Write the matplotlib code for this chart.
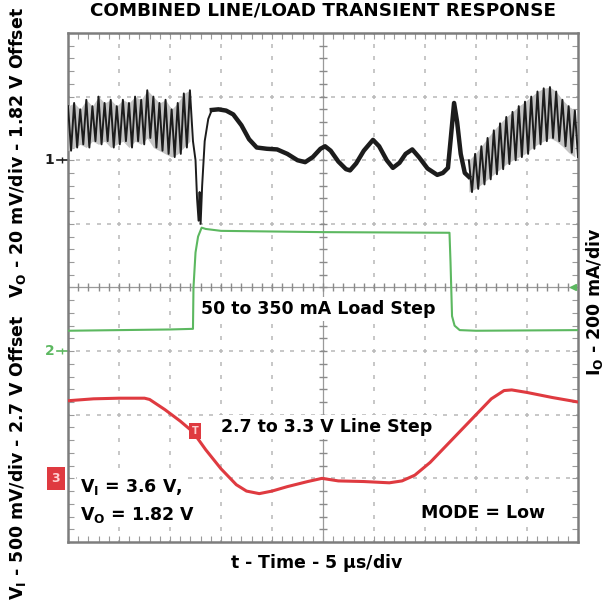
import numpy as np
import matplotlib.pyplot as plt

# Scope screen: 10 x 8 divisions, 5 us/div. All trace values in divisions.
# CH1 = V_O (20 mV/div), CH2 = I_O (200 mA/div), CH3 = V_I (500 mV/div)

# CH1 ripple before the load step (alternating peak / valley), t = 0 .. 2.45 div
ch1_ripple_pre = [2.85, 2.15, 2.9, 2.2, 2.8, 2.25, 2.95, 2.2, 2.85, 2.3, 3.0, 2.25,
                  2.9, 2.3, 2.95, 2.2, 2.85, 2.25, 2.95, 2.3, 2.9, 2.2, 3.0, 2.3,
                  2.95, 2.25, 3.1, 2.35, 3.0, 2.2, 2.9, 2.15, 2.95, 2.1, 2.8, 2.05,
                  2.9, 2.1, 3.05, 2.2, 3.1, 2.3]

# CH1 undershoot at the load step (thin part)
ch1_dip_t = [2.45, 2.5, 2.53, 2.56, 2.58, 2.6, 2.63, 2.68, 2.75, 2.82]
ch1_dip_v = [2.3, 2.0, 1.4, 1.05, 1.5, 1.0, 1.6, 2.3, 2.65, 2.79]

# CH1 under heavy load, through the release spike
ch1_load_t = [2.82, 2.95, 3.1, 3.24, 3.4, 3.55, 3.7, 3.9, 4.1, 4.3, 4.5, 4.65, 4.8,
              4.95, 5.04, 5.15, 5.3, 5.45, 5.53, 5.65, 5.8, 5.98, 6.1, 6.25, 6.37,
              6.5, 6.62, 6.75, 6.88, 7.05, 7.24, 7.35, 7.45, 7.5, 7.57, 7.63, 7.7,
              7.78, 7.86]
ch1_load_v = [2.79, 2.8, 2.78, 2.72, 2.55, 2.33, 2.2, 2.18, 2.17, 2.1, 2.0, 1.97, 2.05,
              2.18, 2.22, 2.15, 1.98, 1.86, 1.84, 1.95, 2.15, 2.32, 2.22, 2.0, 1.88,
              1.96, 2.1, 2.17, 2.05, 1.87, 1.77, 1.8, 1.88, 2.3, 2.9, 2.6, 2.1,
              1.8, 1.74]

# CH1 ripple after the load release, t = 7.86 .. 10 div
ch1_ripple_post = [2.0, 1.5, 2.1, 1.55, 2.22, 1.62, 2.35, 1.7, 2.47, 1.78, 2.58, 1.86,
                   2.68, 1.94, 2.76, 2.0, 2.85, 2.05, 2.92, 2.1, 3.0, 2.18, 3.08, 2.25,
                   3.13, 2.3, 3.15, 2.35, 3.08, 2.3, 2.95, 2.22, 2.85, 2.12, 2.78, 2.05]

# CH2 load current step 50 -> 350 -> 50 mA
ch2_t = [0, 2.0, 2.45, 2.46, 2.5, 2.55, 2.62, 2.7, 3.0, 5.0, 7.48, 7.5, 7.53, 7.58,
         7.68, 8.0, 10]
ch2_v = [-0.68, -0.66, -0.65, 0.0, 0.55, 0.8, 0.94, 0.92, 0.89, 0.87, 0.86, 0.4,
         -0.45, -0.6, -0.67, -0.68, -0.67]

# CH3 input voltage line step
ch3_t = [0, 0.5, 1.0, 1.5, 1.6, 1.9, 2.2, 2.45, 2.7, 3.0, 3.3, 3.5, 3.75, 4.0, 4.3,
         4.7, 4.98, 5.3, 5.8, 6.3, 6.55, 6.8, 7.1, 7.4, 7.7, 8.0, 8.3, 8.55, 8.7,
         9.0, 9.5, 10]
ch3_v = [-1.78, -1.75, -1.74, -1.74, -1.76, -1.92, -2.1, -2.27, -2.55, -2.85, -3.1,
         -3.2, -3.24, -3.2, -3.13, -3.05, -3.0, -3.04, -3.05, -3.07, -3.04, -2.95,
         -2.75, -2.5, -2.25, -2.0, -1.75, -1.62, -1.61, -1.65, -1.73, -1.8]

# channel ground markers (div) and trigger point
ch_levels = {"1": 2, "2": -1, "3": -3}
trig_t, trig_v = 2.49, -2.26
trig_level = 0

BLACK = "#1c1c1c"
GREEN = "#5cb860"
RED = "#df3a40"
GRID = "#b8b8b8"

fig = plt.figure(figsize=(6.09, 6.02), dpi=100)
ax = fig.add_axes([0.1117, 0.0997, 0.8374, 0.8455])
ax.set_xlim(0, 10)
ax.set_ylim(-4, 4)

# graticule: dotted division lines
sub_x = np.arange(0, 10.001, 0.2)
sub_y = np.arange(-4, 4.001, 0.2)
for y in range(-3, 4):
    if y != 0:
        ax.plot(sub_x, np.full_like(sub_x, y), ls="none", marker="_", ms=3, mew=1.1,
                color=GRID, zorder=1)
for x in range(1, 10):
    if x != 5:
        ax.plot(np.full_like(sub_y, x), sub_y, ls="none", marker="|", ms=3, mew=1.1,
                color=GRID, zorder=1)

# center axes with tick marks
ax.axhline(0, color="#9a9a9a", lw=0.9, zorder=1)
ax.axvline(5, color="#9a9a9a", lw=0.9, zorder=1)
ax.plot(sub_x, np.zeros_like(sub_x), ls="none", marker="|", ms=6, mew=1, color="#8a8a8a", zorder=1)
ax.plot(np.full_like(sub_y, 5), sub_y, ls="none", marker="_", ms=6, mew=1, color="#8a8a8a", zorder=1)

for side in ax.spines.values():
    side.set_color("#7d7d7d")
    side.set_linewidth(1.8)
ax.set_xticks(sub_x)
ax.set_yticks(sub_y)
ax.tick_params(direction="in", length=4, width=0.8, color="#9a9a9a",
               top=True, right=True, labelbottom=False, labelleft=False)

# traces
ax.plot(ch3_t, ch3_v, color=RED, lw=2.2, zorder=3)
ax.plot(ch2_t, ch2_v, color=GREEN, lw=1.5, zorder=3)

t_pre = np.linspace(0, 2.45, len(ch1_ripple_pre))
t_post = np.linspace(7.86, 10, len(ch1_ripple_post))
# grey persistence band behind the ripple
for t, r in ((t_pre, ch1_ripple_pre), (t_post, ch1_ripple_post)):
    ax.fill_between(t[::2], r[::2], r[1::2], color="#c4c4c4", lw=0, zorder=3)
ax.plot(np.r_[t_pre, ch1_dip_t], np.r_[ch1_ripple_pre, ch1_dip_v], color=BLACK, lw=1.4, zorder=4)
ax.plot(ch1_load_t, ch1_load_v, color=BLACK, lw=3.2, solid_joinstyle="round", zorder=4)
ax.plot(t_post, ch1_ripple_post, color=BLACK, lw=1.4, zorder=4)

# channel markers on the left edge
for name, col in (("1", BLACK), ("2", GREEN)):
    lvl = ch_levels[name]
    ax.plot([-0.22, 0], [lvl, lvl], color=col, lw=1.2, clip_on=False)
    ax.plot([-0.12], [lvl], marker="|", ms=5, color=col, clip_on=False)
    ax.text(-0.27, lvl, name, color=col, fontsize=10, ha="right", va="center",
            fontweight="bold")
ax.text(-0.24, ch_levels["3"], "3", color="#ffd0d0", fontsize=9, ha="center", va="center",
        fontweight="bold", bbox=dict(fc=RED, ec="none", pad=3.5), clip_on=False)
ax.text(trig_t, trig_v, "T", color="#ffd0d0", fontsize=7, ha="center", va="center",
        fontweight="bold", bbox=dict(fc=RED, ec="none", pad=2), zorder=5)
ax.plot([9.9], [trig_level], marker="<", ms=5, color=GREEN, zorder=5)

# annotations inside the screen
box = dict(fc="white", ec="none", pad=2)
ax.text(4.9, -0.34, "50 to 350 mA Load Step", fontsize=12.5, fontweight="bold",
        ha="center", va="center", bbox=box, zorder=6)
ax.text(5.08, -2.19, "2.7 to 3.3 V Line Step", fontsize=12.5, fontweight="bold",
        ha="center", va="center", bbox=box, zorder=6)
ax.text(0.24, -3.13, r"$\mathbf{V_I}$ = 3.6 V,", fontsize=12.5, fontweight="bold",
        ha="left", va="center", bbox=box, zorder=6)
ax.text(0.24, -3.57, r"$\mathbf{V_O}$ = 1.82 V", fontsize=12.5, fontweight="bold",
        ha="left", va="center", bbox=box, zorder=6)
ax.text(8.14, -3.54, "MODE = Low", fontsize=12.5, fontweight="bold",
        ha="center", va="center", bbox=box, zorder=6)

# titles and axis captions
fig.text(0.530, 0.982, "COMBINED LINE/LOAD TRANSIENT RESPONSE", fontsize=13.2,
         fontweight="bold", ha="center", va="center")
fig.text(0.521, 0.065, r"t - Time - 5 $\mathbf{\mu}$s/div", fontsize=12.5,
         fontweight="bold", ha="center", va="center")
fig.text(0.028, 0.747, r"$\mathbf{V_O}$ - 20 mV/div - 1.82 V Offset", fontsize=12.5,
         fontweight="bold", rotation=90, ha="center", va="center")
fig.text(0.028, 0.241, r"$\mathbf{V_I}$ - 500 mV/div - 2.7 V Offset", fontsize=12.5,
         fontweight="bold", rotation=90, ha="center", va="center")
fig.text(0.977, 0.498, r"$\mathbf{I_O}$ - 200 mA/div", fontsize=12.5,
         fontweight="bold", rotation=90, ha="center", va="center")

fig.savefig("out.png", dpi=100)
